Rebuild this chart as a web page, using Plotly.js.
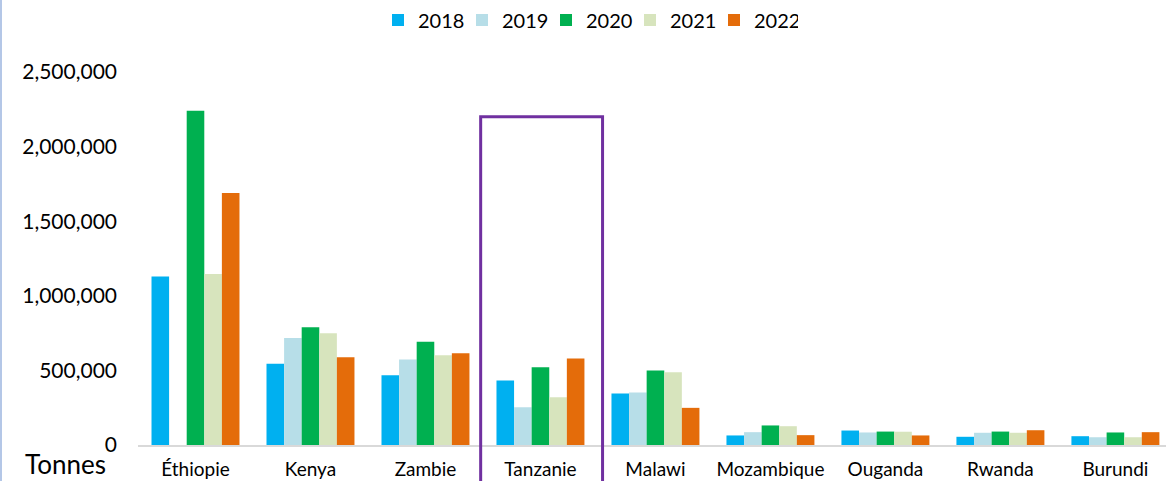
<!DOCTYPE html>
<html>
<head>
<meta charset="utf-8">
<script src="https://cdn.plot.ly/plotly-3.0.1.min.js"></script>
<style>
html,body{margin:0;padding:0;background:#fff;}
#wrap{width:1164px;height:481px;border-left:2px solid #b4c7e7;}
#chart{width:1164px;height:481px;}
</style>
</head>
<body>
<div id="wrap"><div id="chart"></div></div>
<script>
const countries = ["Éthiopie","Kenya","Zambie","Tanzanie","Malawi","Mozambique","Ouganda","Rwanda","Burundi"];
const years = ["2018","2019","2020","2021","2022"];
const v2018 = [1130000, 545000, 468000, 432000, 345000, 64000, 97000, 55000, 59000];
const v2019 = [null, 717000, 573000, 253000, 352000, 86000, 84000, 82000, 52000];
const v2020 = [2240000, 789000, 692000, 521000, 499000, 131000, 90000, 90000, 84000];
const v2021 = [1146000, 749000, 602000, 320000, 488000, 126000, 89000, 82000, 52000];
const v2022 = [1689000, 588000, 615000, 580000, 249000, 66000, 64000, 99000, 86000];
const colors = ["#00b0f0","#b7dee8","#00b050","#d7e4bd","#e46c0a"];
const yTicks = [0, 500000, 1000000, 1500000, 2000000, 2500000];
const highlight = "Tanzanie";

const series = [v2018, v2019, v2020, v2021, v2022];
const FONT = "Lato, 'Open Sans', sans-serif";

const traces = series.map((vals, i) => ({
  type: "bar",
  name: years[i],
  x: countries,
  y: vals,
  marker: {color: colors[i]},
  hoverinfo: "x+y+name"
}));

const xRange = [-0.5, 8.44];
const hi = countries.indexOf(highlight);
const toPaper = v => (v - xRange[0]) / (xRange[1] - xRange[0]);

const layout = {
  width: 1164, height: 481,
  margin: {l: 136, r: 0, t: 72, b: 36},
  paper_bgcolor: "#fff", plot_bgcolor: "#fff",
  font: {family: FONT, color: "#000"},
  barmode: "group",
  bargap: 0.235,
  bargroupgap: 0,
  showlegend: true,
  legend: {
    orientation: "h",
    xref: "container", yref: "container",
    x: 376 / 1164, xanchor: "left",
    y: 1 - 20 / 481, yanchor: "middle",
    font: {size: 20, family: FONT},
    traceorder: "normal",
    itemwidth: 30,
    entrywidth: 39, entrywidthmode: "pixels"
  },
  xaxis: {
    type: "category",
    range: xRange,
    showgrid: false,
    showline: true, linecolor: "#d9d9d9", linewidth: 2,
    ticks: "",
    tickfont: {size: 19, family: FONT},
    ticklabelstandoff: 6,
    automargin: false,
    fixedrange: true
  },
  yaxis: {
    range: [0, 2500000],
    tickvals: yTicks,
    ticktext: yTicks.map(v => v.toLocaleString("en-US")),
    showgrid: false, zeroline: false, showline: false,
    ticks: "",
    tickfont: {size: 21, family: FONT},
    ticklabelstandoff: 20,
    automargin: false,
    fixedrange: true
  },
  shapes: [{
    type: "rect", xref: "paper", yref: "paper",
    x0: toPaper(hi - 0.52), x1: toPaper(hi + 0.54),
    y0: -0.3, y1: 2200000 / 2500000,
    line: {color: "#7030a0", width: 3},
    fillcolor: "rgba(0,0,0,0)",
    layer: "above"
  }],
  annotations: [{
    text: "Tonnes", xref: "paper", yref: "paper",
    x: -0.071, y: -0.051, xanchor: "center", yanchor: "middle",
    showarrow: false, font: {size: 26, family: FONT}
  }]
};

Plotly.newPlot("chart", traces, layout, {displayModeBar: false, staticPlot: true});
</script>
</body>
</html>
